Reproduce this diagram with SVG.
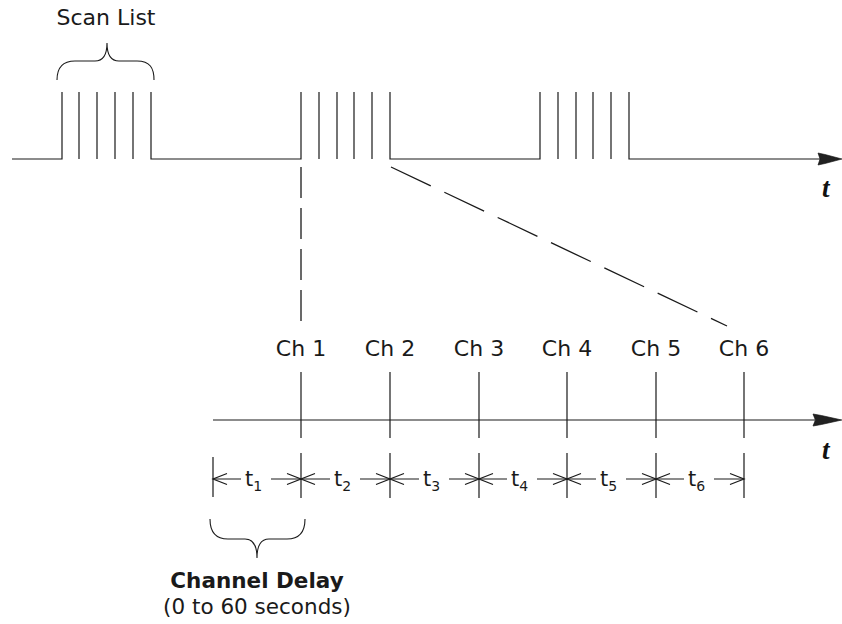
<svg xmlns="http://www.w3.org/2000/svg" width="842" height="624" viewBox="0 0 842 624">
<style>
.ln{stroke:#1a1a1a;stroke-width:1.2;fill:none}
.br{stroke:#1a1a1a;stroke-width:1.1;fill:none}
.dash1{stroke:#1a1a1a;stroke-width:1.3;fill:none;stroke-dasharray:31 10}
.dash2{stroke:#1a1a1a;stroke-width:1.3;fill:none;stroke-dasharray:44 15}
.lbl{font-family:"DejaVu Sans",Verdana,sans-serif;font-size:22px;fill:#1a1a1a}
.cd{font-size:21.5px}
.ch{text-anchor:middle}
.tt{font-family:"DejaVu Sans",Verdana,sans-serif;font-size:21px;fill:#1a1a1a}
.sub{font-family:"DejaVu Sans",Verdana,sans-serif;font-size:14px;fill:#1a1a1a}
.ax{font-family:"Liberation Serif","Times New Roman",serif;font-size:27px;font-weight:bold;font-style:italic;fill:#111}
.ah{fill:#222;stroke:#111;stroke-width:0.6}
</style>
<defs>
<path id="head" d="M0,-6 L7,-4.5 L24,0 L7,4.5 L0,6 L2,0 Z"/>
</defs>

<g id="waveform">
<path class="ln" d="M12,159 H62 V92 M151,92 V159 H301 V92 M390,92 V159 H540 V92 M629,92 V159 H820"/>
<path class="ln" d="M79,92 V159 M97,92 V159 M115,92 V159 M133,92 V159 M319,92 V159 M337,92 V159 M354,92 V159 M372,92 V159 M558,92 V159 M576,92 V159 M593,92 V159 M611,92 V159"/>
<use href="#head" class="ah" x="818" y="159"/>
<text class="ax" x="822" y="197">t</text>
</g>

<g id="scan-list">
<path class="br" d="M57,80 C57,68 62,61 75,61 L95,61 C103,61 107,55 107,43 C107,55 111,61 119,61 L137,61 C150,61 154,68 154,80"/>
<text class="lbl ch" x="106" y="25">Scan List</text>
</g>

<g id="connectors">
<line class="dash1" x1="301" y1="167" x2="301" y2="322"/>
<line class="dash2" x1="391" y1="167" x2="727" y2="326"/>
</g>

<g id="channel-axis">
<line class="ln" x1="213" y1="420" x2="815" y2="420"/>
<use href="#head" class="ah" x="813" y="420" transform="translate(813 420) scale(1.2 1) translate(-813 -420)"/>
<path class="ln" d="M301,372 V438 M390,372 V438 M479,372 V438 M567,372 V438 M656,372 V438 M744,372 V438"/>
<text class="ax" x="822" y="459">t</text>
</g>

<g id="channel-labels">
<text class="lbl ch" x="301" y="356">Ch 1</text>
<text class="lbl ch" x="390" y="356">Ch 2</text>
<text class="lbl ch" x="479" y="356">Ch 3</text>
<text class="lbl ch" x="567" y="356">Ch 4</text>
<text class="lbl ch" x="656" y="356">Ch 5</text>
<text class="lbl ch" x="744" y="356">Ch 6</text>
</g>

<g id="intervals">
<path class="ln" d="M213,457 V497 M301,453 V498 M390,453 V498 M479,453 V498 M567,453 V498 M656,453 V498 M744,453 V498"/>
<path class="ln" d="M213,479 H241 M271,479 H301 M301,479 H330 M360,479 H390 M390,479 H419 M449,479 H479 M479,479 H507 M537,479 H567 M567,479 H596 M626,479 H656 M656,479 H684 M714,479 H744"/>
<path class="ln" d="M227,473.5 L213,479 L227,484.5 M287,473.5 L301,479 L287,484.5 M315,473.5 L301,479 L315,484.5 M376,473.5 L390,479 L376,484.5 M404,473.5 L390,479 L404,484.5 M465,473.5 L479,479 L465,484.5 M493,473.5 L479,479 L493,484.5 M553,473.5 L567,479 L553,484.5 M581,473.5 L567,479 L581,484.5 M642,473.5 L656,479 L642,484.5 M670,473.5 L656,479 L670,484.5 M730,473.5 L744,479 L730,484.5"/>
<text class="tt" x="245" y="486">t<tspan class="sub" dy="5">1</tspan></text>
<text class="tt" x="334" y="486">t<tspan class="sub" dy="5">2</tspan></text>
<text class="tt" x="423" y="486">t<tspan class="sub" dy="5">3</tspan></text>
<text class="tt" x="511" y="486">t<tspan class="sub" dy="5">4</tspan></text>
<text class="tt" x="600" y="486">t<tspan class="sub" dy="5">5</tspan></text>
<text class="tt" x="688" y="486">t<tspan class="sub" dy="5">6</tspan></text>
</g>

<g id="channel-delay">
<path class="br" d="M210,519 C210,531 215,539 228,539 L245,539 C253,539 257,546 257,558 C257,546 261,539 269,539 L287,539 C300,539 305,531 305,519"/>
<text class="lbl cd ch" x="257" y="588" font-weight="bold">Channel Delay</text>
<text class="lbl cd ch" x="257" y="614">(0 to 60 seconds)</text>
</g>
</svg>
